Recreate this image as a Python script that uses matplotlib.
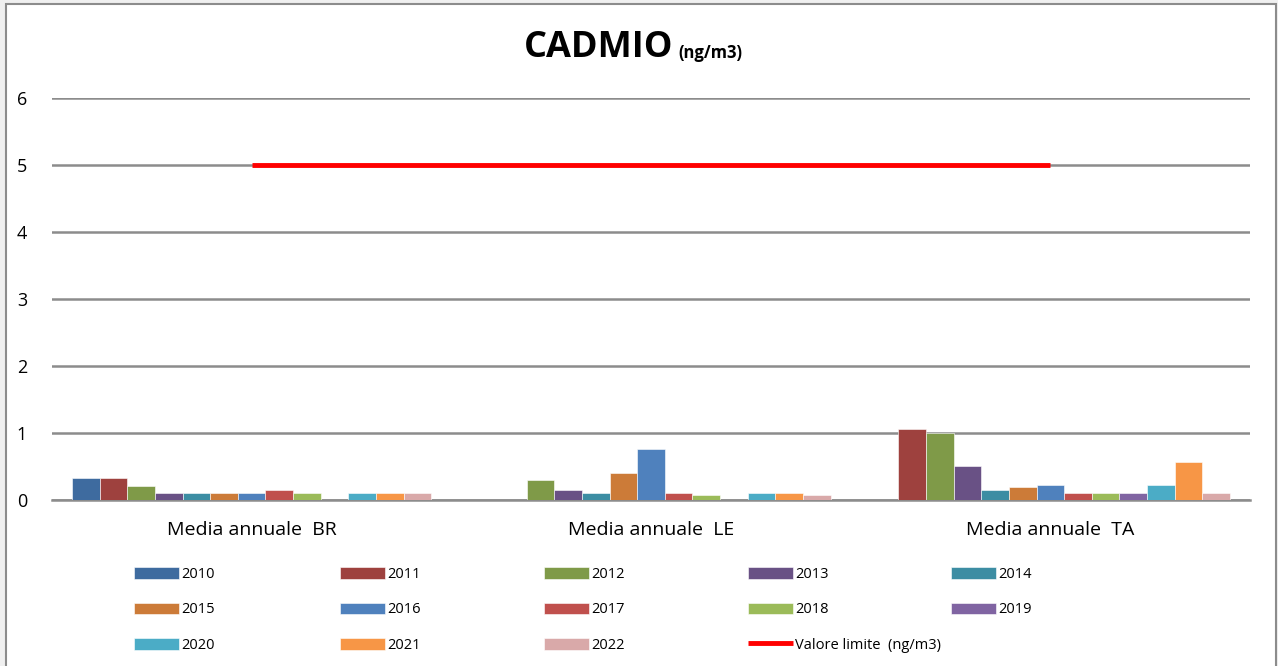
import numpy as np
import matplotlib
matplotlib.use("Agg")
import matplotlib.pyplot as plt
from matplotlib.patches import Rectangle

plt.rcParams["font.family"] = ["Open Sans", "DejaVu Sans"]

categories = ["Media annuale  BR", "Media annuale  LE", "Media annuale  TA"]
years = ["2010", "2011", "2012", "2013", "2014", "2015", "2016",
         "2017", "2018", "2019", "2020", "2021", "2022"]
# one row per year: BR, LE, TA (nan = no data)
values = [
    [0.33, np.nan, np.nan],
    [0.33, np.nan, 1.06],
    [0.21, 0.30, 1.00],
    [0.10, 0.15, 0.51],
    [0.10, 0.10, 0.15],
    [0.10, 0.41, 0.20],
    [0.10, 0.76, 0.23],
    [0.15, 0.10, 0.10],
    [0.10, 0.07, 0.10],
    [np.nan, np.nan, 0.10],
    [0.10, 0.10, 0.23],
    [0.10, 0.10, 0.56],
    [0.10, 0.07, 0.10],
]
colors = ["#3E6B9F", "#9E413E", "#7F9A48", "#695185", "#3C8DA3", "#CC7B38",
          "#4F81BD", "#C0504D", "#9BBB59", "#8064A2", "#4BACC6", "#F79646",
          "#D9A9A9"]
limit_value = 5
limit_label = "Valore limite  (ng/m3)"

fig = plt.figure(figsize=(12.78, 6.66), dpi=100, facecolor="#f0f0f0")
fig.patches.append(Rectangle((6 / 1278, -0.01), 1270 / 1278, 1 - 4 / 666 + 0.01,
                             transform=fig.transFigure, facecolor="white",
                             edgecolor="#8c8c8c", linewidth=1.5, zorder=-10))

ax = fig.add_axes([52 / 1278, 1 - 500 / 666, 1198 / 1278, 402 / 666])
ax.set_facecolor("none")

x = np.arange(len(categories))
n = len(years)
w = 0.9 / n
handles = []
for i, (yr, vals, c) in enumerate(zip(years, values, colors)):
    b = ax.bar(x - 0.45 + w * (i + 0.5), vals, width=w, color=c,
               edgecolor="white", linewidth=0.4, label=yr, zorder=3)
    handles.append(b)

line, = ax.plot([x[0], x[-1]], [limit_value] * 2, color="#ff0000", lw=3.5,
                label=limit_label, zorder=4, solid_capstyle="butt")
handles.append(line)

ax.set_xlim(-0.5, len(categories) - 0.5)
ax.set_ylim(0, 6)
ax.set_yticks(range(7))
ax.grid(axis="y", color="#8c8c8c", lw=1.8, zorder=0)
for s in ["top", "right", "left"]:
    ax.spines[s].set_visible(False)
ax.spines["bottom"].set_color("#8c8c8c")
ax.spines["bottom"].set_linewidth(1.8)
ax.tick_params(axis="y", length=0, labelsize=13, pad=18)
ax.tick_params(axis="x", length=0, labelsize=14, pad=15)
ax.set_xticks(x)
ax.set_xticklabels(categories)

fig.text(0.527, 1 - 48 / 666, "CADMIO", fontsize=26, fontweight="bold",
         ha="right", va="center")
fig.text(0.531, 1 - 53 / 666, "(ng/m3)", fontsize=12, fontweight="bold",
         ha="left", va="center")

labels = years + [limit_label]
col_x = [134, 340, 544, 748, 951]
for c in range(5):
    idx = [c + 5 * r for r in range(3) if c + 5 * r < len(labels)]
    fig.legend([handles[i] for i in idx], [labels[i] for i in idx],
               loc="upper left", bbox_to_anchor=(col_x[c] / 1278, 1 - 567 / 666),
               frameon=False, fontsize=10.5, handlelength=3.1, handleheight=0.85,
               handletextpad=0.15, labelspacing=1.4, borderaxespad=0,
               borderpad=0)

fig.savefig("out.png", dpi=100, facecolor=fig.get_facecolor())
